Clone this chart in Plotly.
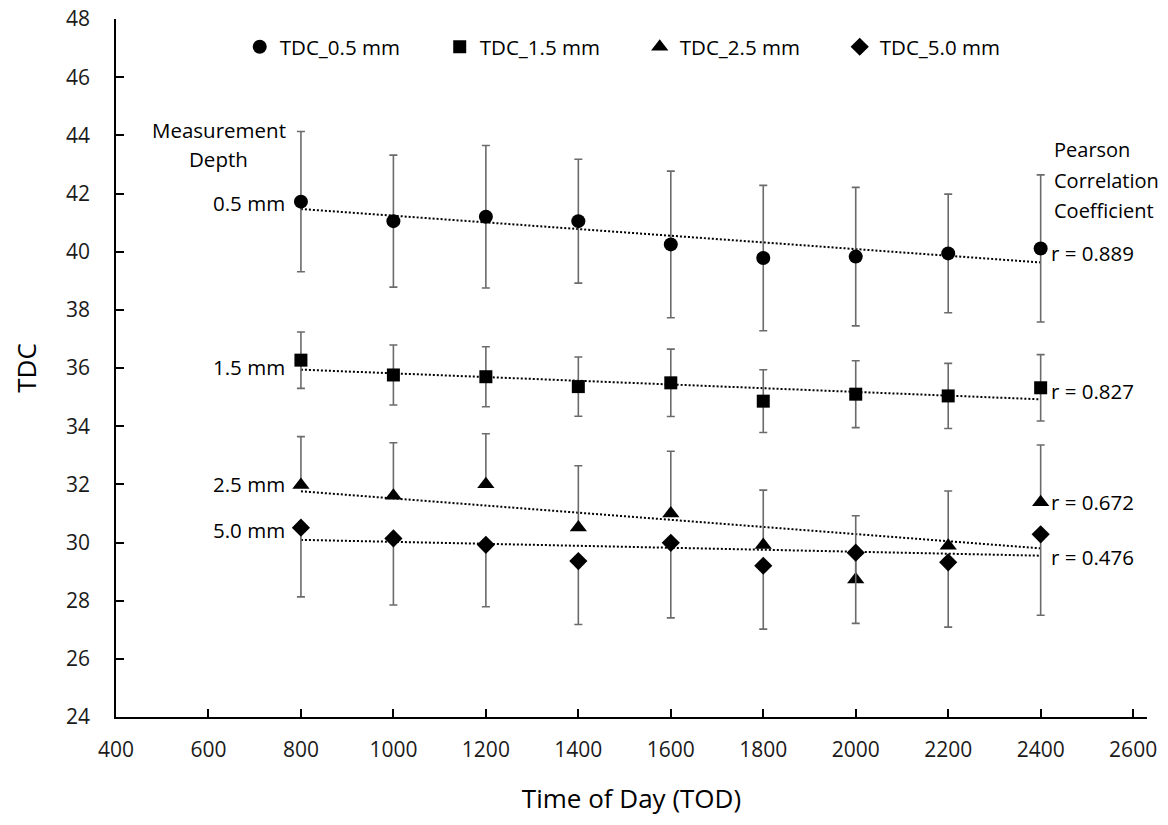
import numpy as np
import plotly.graph_objects as go

# ---- data ----
tod = [800, 1000, 1200, 1400, 1600, 1800, 2000, 2200, 2400]

tdc_05 = [41.72, 41.05, 41.20, 41.05, 40.25, 39.78, 39.83, 39.94, 40.11]
err_05 = [2.41, 2.27, 2.45, 2.13, 2.52, 2.50, 2.38, 2.04, 2.53]

tdc_15 = [36.27, 35.76, 35.70, 35.36, 35.49, 34.86, 35.10, 35.04, 35.32]
err_15 = [0.97, 1.03, 1.03, 1.02, 1.16, 1.08, 1.15, 1.12, 1.14]

tdc_25 = [31.98, 31.61, 32.00, 30.52, 31.00, 29.91, 28.73, 29.89, 31.38]
err_25_plus = [1.66, 1.82, 1.74, 2.12, 2.14, 1.89, 2.19, 1.88, 1.97]

tdc_50 = [30.51, 30.14, 29.92, 29.36, 29.99, 29.20, 29.65, 29.32, 30.28]
err_50_minus = [2.38, 2.29, 2.13, 2.18, 2.58, 2.18, 2.43, 2.23, 2.78]

series_names = ["TDC_0.5 mm", "TDC_1.5 mm", "TDC_2.5 mm", "TDC_5.0 mm"]
depth_labels = ["0.5 mm", "1.5 mm", "2.5 mm", "5.0 mm"]
r_labels = ["r = 0.889", "r = 0.827", "r = 0.672", "r = 0.476"]
r_label_y = [39.95, 35.21, 31.39, 29.50]
depth_label_y = [41.67, 36.03, 32.01, 30.43]
left_heading = ["Measurement", "Depth"]
left_heading_y = [44.20, 43.20]
right_heading = ["Pearson", "Correlation", "Coefficient"]
right_heading_y = [43.53, 42.46, 41.40]

FONT = "Open Sans, sans-serif"
ERR_COLOR = "#6b6b6b"
ANN_SIZE = 20.5

series = [
    (tdc_05, err_05, err_05, "circle", 14),
    (tdc_15, err_15, err_15, "square", 13),
    (tdc_25, err_25_plus, [0] * len(tod), "triangle-up", 15),
    (tdc_50, [0] * len(tod), err_50_minus, "diamond", 14),
]

fig = go.Figure()

# linear trend lines (dotted)
for vals, *_ in series:
    slope, intercept = np.polyfit(tod, vals, 1)
    xs = [tod[0], tod[-1]]
    fig.add_trace(go.Scatter(
        x=xs, y=[slope * x + intercept for x in xs], mode="lines",
        line=dict(color="black", width=2, dash="2px,2px"),
        showlegend=False, hoverinfo="skip"))

for (vals, ep, em, sym, size), name in zip(series, series_names):
    fig.add_trace(go.Scatter(
        x=tod, y=vals, mode="markers", name=name,
        marker=dict(symbol=sym, size=size, color="black"),
        error_y=dict(type="data", symmetric=False, array=ep, arrayminus=em,
                     color=ERR_COLOR, thickness=1.6, width=4),
    ))

ann_font = dict(size=ANN_SIZE, color="black", family=FONT)
annotations = []
for lab, yv in zip(depth_labels, depth_label_y):
    annotations.append(dict(x=800, y=yv, xref="x", yref="y", text=lab,
                            showarrow=False, xanchor="right", xshift=-14, font=ann_font))
for lab, yv in zip(r_labels, r_label_y):
    annotations.append(dict(x=2400, y=yv, xref="x", yref="y", text=lab,
                            showarrow=False, xanchor="left", xshift=8, font=ann_font))
for lab, yv in zip(right_heading, right_heading_y):
    annotations.append(dict(x=2400, y=yv, xref="x", yref="y", text=lab,
                            showarrow=False, xanchor="left", yanchor="middle",
                            xshift=11, font=dict(size=20, color="black", family=FONT)))
for lab, yv in zip(left_heading, left_heading_y):
    annotations.append(dict(x=800, y=yv, xref="x", yref="y", text=lab,
                            showarrow=False, xanchor="center", yanchor="middle",
                            xshift=-82, font=ann_font))

fig.update_layout(
    width=1168, height=825,
    margin=dict(l=116, r=21, t=19, b=108),
    paper_bgcolor="white", plot_bgcolor="white",
    font=dict(family=FONT, color="black", size=20),
    showlegend=True,
    legend=dict(orientation="h", x=0.12, y=0.96, xanchor="left", yanchor="middle",
                font=dict(size=ANN_SIZE, family=FONT, color="black"),
                entrywidth=155, entrywidthmode="pixels", itemwidth=30,
                bgcolor="rgba(0,0,0,0)"),
    annotations=annotations,
)

fig.update_xaxes(
    range=[400, 2630], tickvals=list(range(400, 2601, 200)),
    showline=True, linecolor="black", linewidth=1.5,
    ticks="inside", ticklen=8, tickwidth=1.5, tickcolor="black",
    showgrid=False, zeroline=False, ticklabelstandoff=13, automargin=False,
    ticklabeloverflow="allow",
    tickfont=dict(size=21, family=FONT, color="#1a1a1a"),
    title=dict(text="Time of Day (TOD)", font=dict(size=26, family=FONT, color="black"), standoff=28),
)
fig.update_yaxes(
    range=[24, 48], dtick=2,
    showline=True, linecolor="black", linewidth=1.5,
    ticks="inside", ticklen=8, tickwidth=1.5, tickcolor="black",
    showgrid=False, zeroline=False, ticklabelstandoff=20, automargin=False,
    ticklabeloverflow="allow",
    tickfont=dict(size=21, family=FONT, color="#1a1a1a"),
    title=dict(text="TDC", font=dict(size=26, family=FONT, color="black"), standoff=22),
)

# remove the browser's default 8px page margin so the figure fills the window
fig.write_html("out.html", config={"displayModeBar": False},
               post_script="document.body.style.margin='0';")
